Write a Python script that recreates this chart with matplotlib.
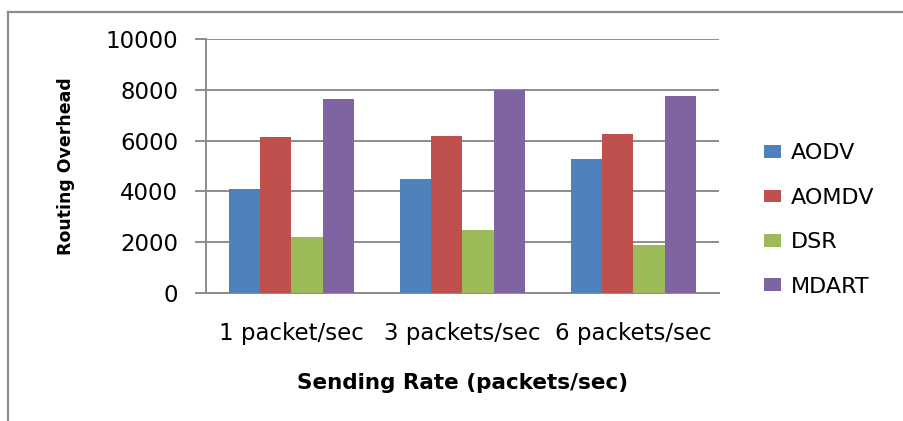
import matplotlib
matplotlib.use("Agg")
import matplotlib.pyplot as plt
from matplotlib.lines import Line2D
import numpy as np

plt.rcParams["font.family"] = "DejaVu Sans"

# --- data ---
rates = ["1 packet/sec", "3 packets/sec", "6 packets/sec"]
protocols = ["AODV", "AOMDV", "DSR", "MDART"]
aodv = [4080, 4470, 5290]
aomdv = [6130, 6180, 6280]
dsr = [2200, 2490, 1870]
mdart = [7660, 8000, 7750]
series = [aodv, aomdv, dsr, mdart]
colors = ["#4F81BD", "#C0504D", "#9BBB59", "#8064A2"]

yticks = [0, 2000, 4000, 6000, 8000, 10000]

GRID = "#8C8C8C"
W, H = 904, 421

fig = plt.figure(figsize=(W / 100, H / 100), dpi=100)
ax = fig.add_axes([206 / W, 1 - 292.7 / H, 513 / W, 253.4 / H])

x = np.arange(len(rates))
bw = 0.183
for i, (vals, col) in enumerate(zip(series, colors)):
    ax.bar(x + (i - 1.5) * bw, vals, bw, color=col, label=protocols[i],
           zorder=3, linewidth=0)

ax.set_xlim(-0.5, 2.5)
ax.set_ylim(0, 10000)
ax.set_yticks(yticks)
ax.set_yticklabels([str(v) for v in yticks], fontsize=16.5)
ax.set_xticks(x)
ax.set_xticklabels(rates, fontsize=16.5)

ax.yaxis.grid(True, color=GRID, lw=1.4, zorder=0)
ax.tick_params(axis="y", length=8, width=1.4, color=GRID, pad=12)
ax.tick_params(axis="x", length=0, pad=21)

for s in ["top", "right"]:
    ax.spines[s].set_visible(False)
ax.spines["left"].set_color(GRID)
ax.spines["left"].set_linewidth(1.4)
ax.spines["bottom"].set_color(GRID)
ax.spines["bottom"].set_linewidth(1.4)

ax.set_ylabel("Routing Overhead", fontsize=12.5, fontweight="bold", labelpad=22)
ax.set_xlabel("Sending Rate (packets/sec)", fontsize=15.5, fontweight="bold",
              labelpad=20)

ax.legend(loc="center left", bbox_to_anchor=(744 / W, 1 - 220 / H),
          bbox_transform=fig.transFigure, frameon=False, fontsize=16,
          handlelength=0.75, handleheight=0.5, handletextpad=0.45,
          labelspacing=1.1)

# outer frame (top and left edges visible in the reference)
fig.add_artist(Line2D([8 / W, 1.0], [1 - 11.5 / H] * 2, transform=fig.transFigure,
                      color=GRID, lw=1.6))
fig.add_artist(Line2D([8 / W] * 2, [0.0, 1 - 11.5 / H], transform=fig.transFigure,
                      color=GRID, lw=1.6))

fig.savefig("out.png", dpi=100, facecolor="white")
